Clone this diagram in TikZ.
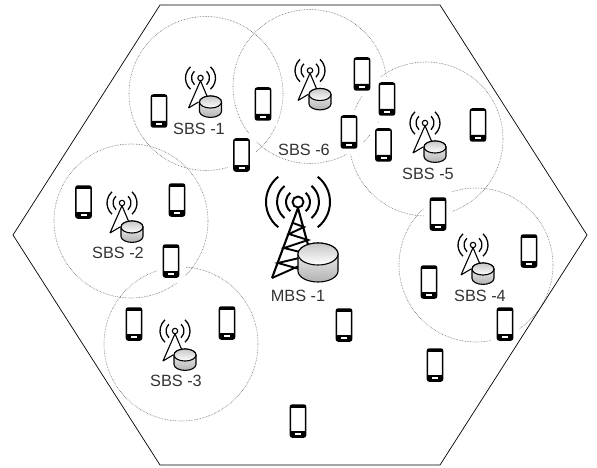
\documentclass[tikz,border=0pt]{standalone}
\usepackage{fontspec}
\setmainfont{Liberation Sans}
\usepackage{tikz}
\definecolor{labelgray}{gray}{0.2}
\definecolor{cellgray}{gray}{0.4}
\tikzset{
    celllabel/.style={text=labelgray, font=\fontsize{16.3}{18}\selectfont, inner sep=0pt},
    cellzone/.style={draw=cellgray, densely dotted, line width=0.6pt},
    % Telefono
    phone/.pic={
        \fill[white] (-14,-22) rectangle (14,22);
        \draw[black, line width=1.5pt, fill=white, rounded corners=2pt] (-7.6,-16) rectangle (7.6,16);
        \fill[black, rounded corners=1pt] (-7.6,10) rectangle (7.6,16);
        \fill[white] (-3,12) rectangle (3,14);
        \fill[black] (-7.6,-16) rectangle (7.6,-13.5);
    },
    % Disco
    disk/.pic={
        \draw[black, line width=1.1pt, top color=white, bottom color=black!30] (-20,0) -- (-20,17)
            arc[start angle=180, end angle=0, x radius=20, y radius=11] -- (20,0)
            arc[start angle=0, end angle=-180, x radius=20, y radius=11] -- cycle;
        \draw[black, line width=1.1pt, top color=black!22, bottom color=white] (0,0) ellipse[x radius=20, y radius=11];
    },
    % Torre grande
    bigtower/.pic={
        \draw[black, line width=1.9pt] (0,0) circle (5.5);
        \draw[black, line width=2.1pt] (0,6) -- (-26,76) (0,6) -- (19,76);
        \draw[black, line width=1.9pt] (-5,21) -- (6,25) -- (-9,32) -- (10,38) -- (-14,46) -- (14,53) -- (-20,61) -- (19,72) (-26,76) -- (10,60);
        \foreach \r/\a in {12/50,21/50,32/52} {
            \draw[black, line width=2pt] (\a:\r) arc[start angle=\a, end angle=-\a, radius=\r];
            \draw[black, line width=2pt] (180-\a:\r) arc[start angle=180-\a, end angle=180+\a, radius=\r];
        }
        \pic at (20,52) {disk};
    },
    % Torre chica
    smalltower/.pic={
        \draw[black, line width=1.1pt] (0,0) circle (2.7);
        \draw[black, line width=1.1pt] (0,2.7) -- (-12,30) (0,2.7) -- (9,24) (-12,30) -- (-2,24);
        \foreach \r/\a in {9/48,15/48} {
            \draw[black, line width=1.3pt] (\a:\r) arc[start angle=\a, end angle=-\a, radius=\r];
            \draw[black, line width=1.3pt] (180-\a:\r) arc[start angle=180-\a, end angle=180+\a, radius=\r];
        }
        \pic[scale=0.55] at (10,24) {disk};
    }
}
\begin{document}
\begin{tikzpicture}[x=1pt, y=-1pt]
    \useasboundingbox (0,0) rectangle (597,468);

    % Zonas
    \foreach \name/\cx/\cy/\rad in {zoneone/206/93.5/77, zonesix/310/86.5/77, zonefive/426/139/77,
        zonefour/476/265/77, zonetwo/131/221/77, zonethree/181/344/77}
        \node[cellzone, circle, minimum size=2*\rad pt, inner sep=0pt] (\name) at (\cx,\cy) {};

    % Telefonos
    \foreach \px/\py in {159/111, 263/104, 241.5/155, 362/74, 387/99, 349/132, 383.5/145, 478/125,
        83.5/202, 177/200, 171/261, 134/324, 227/323, 438/214, 429/282, 529/251, 505/324,
        344/325, 435/365, 298/421}
        \pic at (\px,\py) {phone};

    % Hexagono
    \draw[black, line width=0.7pt] (160,5) -- (440,5) -- (587,235) -- (440,465) -- (160,465) -- (13,235) -- cycle;

    % Torres
    \pic at (298,202) {bigtower};
    \foreach \tx/\ty in {200.5/78, 310/70.5, 425/123, 473/245, 122/203, 175/331}
        \pic at (\tx,\ty) {smalltower};

    % Etiquetas
    \node[celllabel] (mbsone) at (298,296) {MBS -1};
    \node[celllabel] (sbsone) at (199,129) {SBS -1};
    \node[celllabel] (sbstwo) at (118,253) {SBS -2};
    \node[celllabel] (sbsthree) at (176,380.5) {SBS -3};
    \node[celllabel] (sbsfour) at (480,296) {SBS -4};
    \node[celllabel] (sbsfive) at (428,174) {SBS -5};
    \node[celllabel] (sbssix) at (304,150) {SBS -6};
\end{tikzpicture}
\end{document}
